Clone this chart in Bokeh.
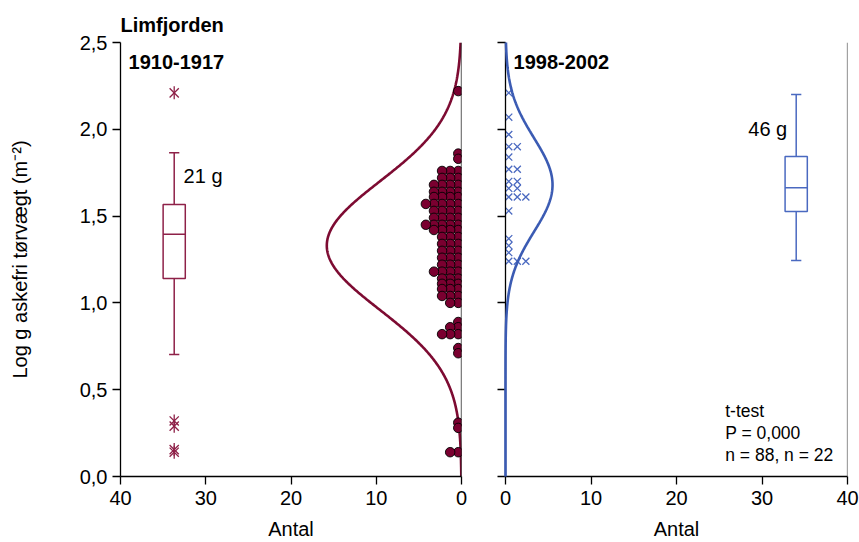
import numpy as np
from bokeh.plotting import figure
from bokeh.models import Range1d, FixedTicker, CustomJSTickFormatter, Span, Label
from bokeh.layouts import row
from bokeh.embed import file_html
from bokeh.resources import INLINE

FONT = "Liberation Sans"

# 1910-1917: log ash-free dry weight, stacked dot rows (value, number of samples)
old_levels = [2.22, 1.86, 1.83, 1.76, 1.72, 1.68, 1.64, 1.61, 1.57, 1.53, 1.49,
              1.45, 1.42, 1.38, 1.34, 1.30, 1.26, 1.22, 1.18, 1.14, 1.11, 1.08,
              1.04, 1.00, 0.89, 0.86, 0.82, 0.74, 0.71, 0.31, 0.28, 0.14]
old_counts = [1, 1, 1, 3, 3, 4, 4, 4, 5, 4, 4,
              5, 4, 3, 3, 3, 3, 3, 4, 3, 3, 3,
              3, 2, 1, 2, 3, 1, 1, 1, 1, 2]

# 1998-2002: same measure, stacked cross rows
new_levels = [2.21, 2.07, 1.97, 1.90, 1.84, 1.77, 1.70, 1.66, 1.61, 1.53,
              1.37, 1.33, 1.29, 1.24]
new_counts = [1, 1, 1, 2, 1, 2, 2, 2, 3, 1, 1, 1, 1, 3]

# Box plots: lower whisker, Q1, median, Q3, upper whisker
old_box = [0.703, 1.14, 1.396, 1.567, 1.865]
old_outliers = [2.21, 0.32, 0.29, 0.155, 0.14]
new_box = [1.244, 1.527, 1.663, 1.843, 2.20]

# Fitted normal curves: mean, sd, peak height (count)
old_fit = [1.33, 0.37, 15.8]
new_fit = [1.68, 0.27, 5.5]

x_ticks = [0, 10, 20, 30, 40]
y_ticks = [0.0, 0.5, 1.0, 1.5, 2.0, 2.5]

RED = "#7d0b32"
RED_BOX = "#8e2148"
BLUE = "#3b5bb3"
BLUE_MARK = "#4a69c0"


def stack(levels, counts, start, step):
    xs, ys = [], []
    for v, n in zip(levels, counts):
        for k in range(n):
            xs.append(start + step * k)
            ys.append(v)
    return xs, ys


def normal_curve(fit):
    mu, sd, peak = fit
    y = np.linspace(0, 2.5, 400)
    x = peak * np.exp(-((y - mu) ** 2) / (2 * sd ** 2))
    return x, y


def draw_box(p, center, stats, color, half_w=1.3, cap=0.6):
    lo, q1, med, q3, hi = stats
    p.quad(left=[center - half_w], right=[center + half_w], bottom=[q1], top=[q3],
           fill_color=None, line_color=color, line_width=1.5)
    p.segment(x0=[center - half_w, center, center, center - cap, center - cap],
              y0=[med, q3, q1, hi, lo],
              x1=[center + half_w, center, center, center + cap, center + cap],
              y1=[med, hi, lo, hi, lo],
              line_color=color, line_width=1.5)


def style(p):
    p.xgrid.visible = False
    p.ygrid.visible = False
    p.outline_line_color = None
    p.background_fill_color = "white"
    p.border_fill_color = "white"
    for ax in (p.xaxis[0], p.yaxis[0]):
        ax.axis_line_color = "black"
        ax.axis_line_width = 1.3
        ax.major_tick_line_color = "black"
        ax.major_tick_line_width = 1.3
        ax.major_tick_out = 8
        ax.major_tick_in = 0
        ax.minor_tick_line_color = None
        ax.major_label_text_font = FONT
        ax.major_label_text_font_size = "20px"
        ax.major_label_text_color = "black"
        ax.axis_label_text_font = FONT
        ax.axis_label_text_font_size = "20px"
        ax.axis_label_text_font_style = "normal"
        ax.axis_label_text_color = "black"
    p.xaxis.ticker = FixedTicker(ticks=x_ticks)
    p.yaxis.ticker = FixedTicker(ticks=y_ticks)
    p.xaxis.major_label_standoff = 6
    p.xaxis.axis_label_standoff = 10
    p.xaxis.axis_label = "Antal"


# ---------------- left panel: 1910-1917 ----------------
p1 = figure(width=475, height=542, x_range=Range1d(40, 0), y_range=Range1d(0, 2.5),
            output_backend="svg", toolbar_location=None,
            min_border_left=120, min_border_right=14, min_border_top=42,
            min_border_bottom=66)
style(p1)
p1.yaxis.formatter = CustomJSTickFormatter(code="return tick.toFixed(1).replace('.', ',');")
p1.yaxis.axis_label = "Log g askefri tørvægt (m⁻²)"
p1.yaxis.axis_label_standoff = 46
p1.yaxis.major_label_standoff = 5

p1.title.text = "Limfjorden"
p1.title.text_font = FONT
p1.title.text_font_size = "20px"
p1.title.text_font_style = "bold"
p1.title.text_color = "black"
p1.title.align = "left"
p1.title.standoff = 13

p1.add_layout(Span(location=0, dimension="height", line_color="black", line_width=1.3))

cx, cy = normal_curve(old_fit)
p1.line(cx, cy, line_color=RED, line_width=2.6)

dx, dy = stack(old_levels, old_counts, 0.38, 0.95)
p1.scatter(dx, dy, marker="circle", size=9.5, fill_color="#7a0030",
           line_color="black", line_width=0.9)

draw_box(p1, 33.7, old_box, RED_BOX)
ox = [33.7] * len(old_outliers)
p1.scatter(ox, old_outliers, marker="x", size=13, line_color=RED_BOX, line_width=1.3)
p1.scatter(ox, old_outliers, marker="dash", angle=np.pi / 2, size=13,
           line_color=RED_BOX, line_width=1.3)

p1.add_layout(Label(x=32.6, y=1.73, text="21 g", text_font=FONT, text_font_size="20px",
                    text_align="left", text_baseline="middle", text_color="black"))
p1.add_layout(Label(x=39.06, y=2.385, text="1910-1917", text_font=FONT,
                    text_font_size="20px", text_font_style="bold",
                    text_align="left", text_baseline="middle", text_color="black"))

# ---------------- right panel: 1998-2002 ----------------
p2 = figure(width=384, height=542, x_range=Range1d(0, 40), y_range=Range1d(0, 2.5),
            output_backend="svg", toolbar_location=None,
            min_border_left=30, min_border_right=12, min_border_top=42,
            min_border_bottom=66)
style(p2)
p2.yaxis.formatter = CustomJSTickFormatter(code="return '';")
p2.yaxis.major_label_standoff = 0

p2.add_layout(Span(location=40, dimension="height", line_color="#444444", line_width=1.2))

cx, cy = normal_curve(new_fit)
p2.line(cx, cy, line_color=BLUE, line_width=2.6, level="overlay")

kx, ky = stack(new_levels, new_counts, 0.38, 1.0)
p2.scatter(kx, ky, marker="x", size=10, line_color=BLUE_MARK, line_width=1.3)

draw_box(p2, 34.0, new_box, BLUE_MARK)

p2.add_layout(Label(x=28.4, y=2.0, text="46 g", text_font=FONT, text_font_size="20px",
                    text_align="left", text_baseline="middle", text_color="black"))
p2.add_layout(Label(x=0.94, y=2.385, text="1998-2002", text_font=FONT,
                    text_font_size="20px", text_font_style="bold",
                    text_align="left", text_baseline="middle", text_color="black"))

for txt, yy in [("t-test", 0.38), ("P = 0,000", 0.253), ("n = 88, n = 22", 0.121)]:
    p2.add_layout(Label(x=25.7, y=yy, text=txt, text_font=FONT, text_font_size="17.5px",
                        text_align="left", text_baseline="middle", text_color="black"))

layout = row(p1, p2)
open("out.html", "w").write(file_html(layout, INLINE))
